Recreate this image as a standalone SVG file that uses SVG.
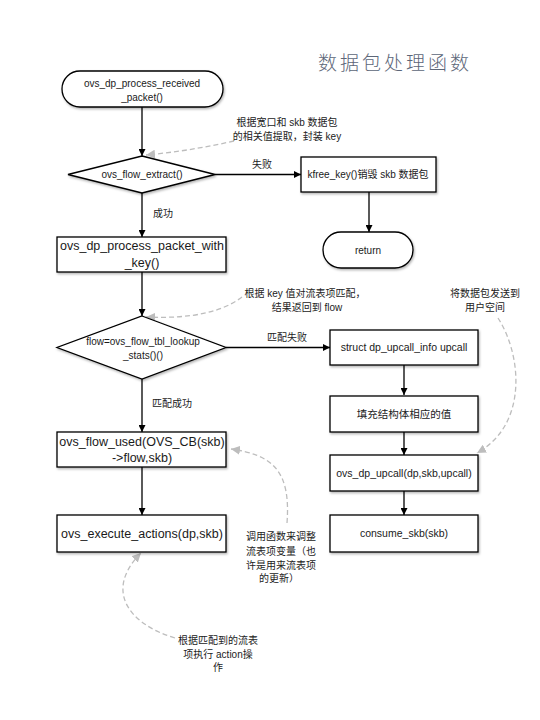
<svg xmlns="http://www.w3.org/2000/svg" width="540" height="720" viewBox="0 0 540 720">
<defs>
<style>
.shape{fill:#fff;stroke:#000;stroke-width:1.3;filter:url(#sh)}
.t{font-family:"Liberation Sans","Noto Sans CJK SC",sans-serif;fill:#1a1a1a;text-anchor:middle}
.s10{font-size:10px}
.s105{font-size:10.5px}
.s12{font-size:12.5px}
.note{font-family:"Liberation Sans","Noto Sans CJK SC",sans-serif;font-size:10px;fill:#222;text-anchor:middle}
.edge{fill:none;stroke:#000;stroke-width:1.3;marker-end:url(#ah)}
.dash{fill:none;stroke:#bdbdbd;stroke-width:1.3;stroke-dasharray:5 3;marker-end:url(#ag)}
.title{font-family:"Noto Sans CJK SC",sans-serif;font-size:19px;fill:#5c6678;letter-spacing:3px;font-weight:300}
</style>
<filter id="sh" x="-10%" y="-10%" width="130%" height="140%">
<feDropShadow dx="1" dy="1.5" stdDeviation="1" flood-color="#000" flood-opacity="0.3"/>
</filter>
<marker id="ah" viewBox="0 0 10 10" refX="10" refY="5" markerWidth="7" markerHeight="7" markerUnits="userSpaceOnUse" orient="auto">
<path d="M0 0 L10 5 L0 10 z" fill="#000"/>
</marker>
<marker id="ag" viewBox="0 0 10 10" refX="10" refY="5" markerWidth="9" markerHeight="9" markerUnits="userSpaceOnUse" orient="auto">
<path d="M0 0 L10 5 L0 10 z" fill="#bdbdbd"/>
</marker>
</defs>
<rect width="540" height="720" fill="#fff"/>
<text class="title" x="318" y="70">数据包处理函数</text>

<g id="connectors">
<path class="edge" d="M142 107 L142 156"/>
<path class="edge" d="M215 174.5 L301 174.5"/>
<path class="edge" d="M369 192 L369 232"/>
<path class="edge" d="M142 193 L142 237"/>
<path class="edge" d="M142 272 L142 316"/>
<path class="edge" d="M226 347.5 L330 347.5"/>
<path class="edge" d="M404 365 L404 395"/>
<path class="edge" d="M404 432 L404 455"/>
<path class="edge" d="M404 491 L404 515"/>
<path class="edge" d="M142 379 L142 432"/>
<path class="edge" d="M142 467 L142 515"/>
<path class="dash" d="M234 141 Q190 151 146 155"/>
<path class="dash" d="M242 297 C222 312 192 319 146 317"/>
<path class="dash" d="M498 318 C522 355 528 425 477 453"/>
<path class="dash" d="M287 523 C291 470 272 455 231 449"/>
<path class="dash" d="M175 638 C128 624 104 590 141 553"/>
<text class="note" x="262" y="168">失败</text>
<text class="note" x="163" y="217">成功</text>
<text class="note" x="287" y="341">匹配失败</text>
<text class="note" x="172" y="407">匹配成功</text>
</g>

<g id="start">
<rect class="shape" x="62" y="71" width="161" height="36" rx="18"/>
<text class="t s10" x="142" y="87">ovs_dp_process_received</text>
<text class="t s10" x="142" y="101">_packet()</text>
</g>

<g id="flow_extract">
<polygon class="shape" points="142,156 215,174.5 142,193 68,174.5"/>
<text class="t s10" x="142" y="178">ovs_flow_extract()</text>
</g>

<g id="kfree">
<rect class="shape" x="301" y="157" width="135" height="35"/>
<text class="t s10" x="368" y="178">kfree_key()销毁 skb 数据包</text>
</g>

<g id="return">
<rect class="shape" x="323" y="232" width="90" height="36" rx="18"/>
<text class="t s10" x="368" y="254">return</text>
</g>

<g id="process_with_key">
<rect class="shape" x="57" y="237" width="169" height="35"/>
<text class="t s12" x="142" y="250">ovs_dp_process_packet_with</text>
<text class="t s12" x="142" y="267">_key()</text>
</g>

<g id="lookup">
<polygon class="shape" points="142,316 226,347.5 142,379 57,347.5"/>
<text class="t s10" x="143" y="345">flow=ovs_flow_tbl_lookup</text>
<text class="t s10" x="143" y="359">_stats()()</text>
</g>

<g id="upcall_info">
<rect class="shape" x="330" y="330" width="148" height="35"/>
<text class="t s105" x="404" y="351">struct dp_upcall_info upcall</text>
</g>

<g id="fill">
<rect class="shape" x="330" y="396" width="148" height="36"/>
<text class="t s105" x="404" y="418">填充结构体相应的值</text>
</g>

<g id="dp_upcall">
<rect class="shape" x="330" y="455" width="148" height="36"/>
<text class="t s105" x="404" y="477">ovs_dp_upcall(dp,skb,upcall)</text>
</g>

<g id="consume">
<rect class="shape" x="330" y="515" width="148" height="37"/>
<text class="t s105" x="404" y="537">consume_skb(skb)</text>
</g>

<g id="flow_used">
<rect class="shape" x="57" y="432" width="169" height="35"/>
<text class="t s12" x="142" y="446">ovs_flow_used(OVS_CB(skb)</text>
<text class="t s12" x="142" y="462">-&gt;flow,skb)</text>
</g>

<g id="execute">
<rect class="shape" x="57" y="515" width="169" height="37"/>
<text class="t s12" x="142" y="538">ovs_execute_actions(dp,skb)</text>
</g>

<g id="notes">
<text class="note" x="287" y="126">根据宽口和 skb 数据包</text>
<text class="note" x="287" y="140">的相关值提取，封装 key</text>
<text class="note" x="305" y="297">根据 key 值对流表项匹配，</text>
<text class="note" x="307" y="311">结果返回到 flow</text>
<text class="note" x="485" y="297">将数据包发送到</text>
<text class="note" x="485" y="311">用户空间</text>
<text class="note" x="281" y="540">调用函数来调整</text>
<text class="note" x="281" y="555">流表项变量（也</text>
<text class="note" x="281" y="569">许是用来流表项</text>
<text class="note" x="279" y="582">的更新）</text>
<text class="note" x="218" y="644">根据匹配到的流表</text>
<text class="note" x="218" y="658">项执行 action操</text>
<text class="note" x="218" y="671">作</text>
</g>
</svg>
